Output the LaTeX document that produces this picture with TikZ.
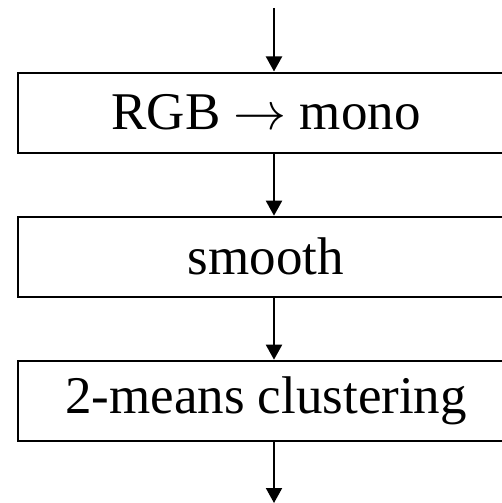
\documentclass[tikz,border=0pt]{standalone}
\usepackage{fix-cm}
\usepackage{fontspec}
\setmainfont{Liberation Serif}
\usetikzlibrary{arrows.meta}
\begin{document}
\begin{tikzpicture}[x=1pt,y=-1pt,
  stage/.style={draw, line width=2pt, minimum width=497pt, minimum height=80pt,
    inner sep=0pt, font=\fontsize{53}{60}\selectfont},
  flow/.style={line width=2pt, -{Triangle[width=16pt,length=15pt]}}]
  \useasboundingbox (0,0) rectangle (502,503);
  \clip (0,0) rectangle (502,503);
  \coordinate (in) at (274,8);
  \node[stage] (mono) at (266,112.5) {RGB $\rightarrow$ mono};
  \node[stage] (smooth) at (266,256.7) {smooth};
  \node[stage] (kmeans) at (266,400.7) {2-means clustering};
  \coordinate (out) at (274,503);
  \draw[flow] (in) -- (mono.north -| in);
  \draw[flow] (mono.south -| in) -- (smooth.north -| in);
  \draw[flow] (smooth.south -| in) -- (kmeans.north -| in);
  \draw[flow] (kmeans.south -| in) -- (out);
\end{tikzpicture}
\end{document}
